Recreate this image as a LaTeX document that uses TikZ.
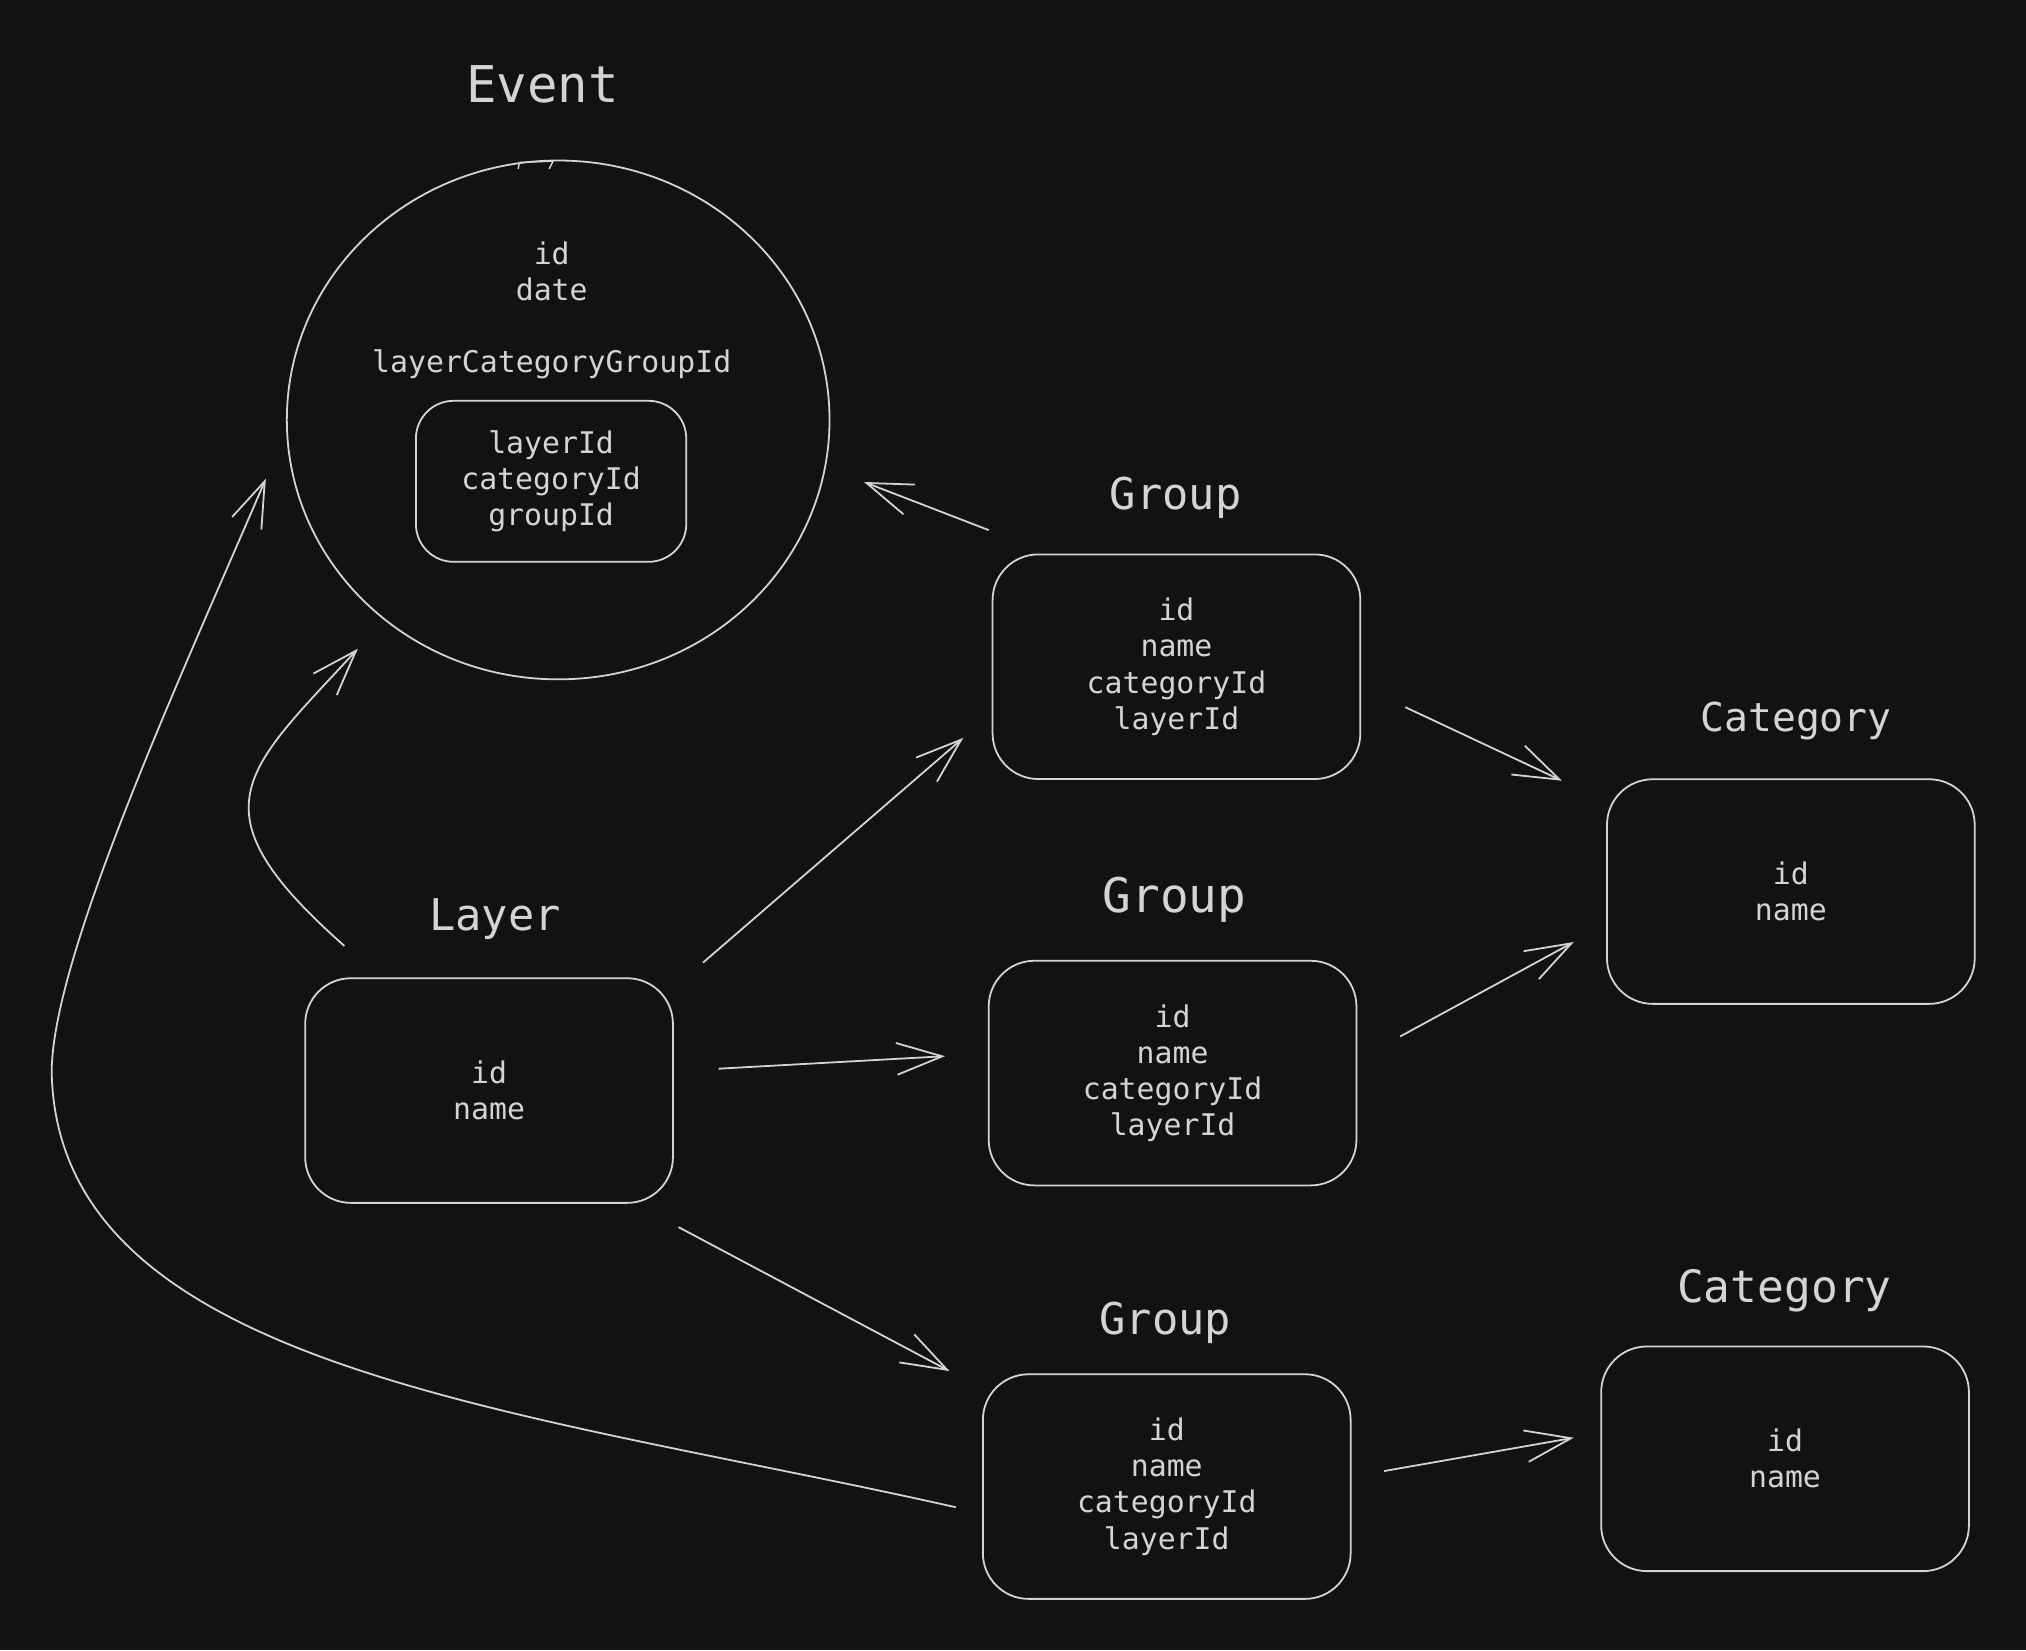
\documentclass[tikz,border=0pt]{standalone}
\usepackage{fontspec}
\setmonofont{DejaVu Sans Mono}
\usepackage{tikz}
\usetikzlibrary{arrows.meta,shapes.geometric}
\definecolor{board}{HTML}{121212}
\definecolor{chalk}{HTML}{D4D4D4}

\begin{document}
\begin{tikzpicture}[
x=0.65pt, y=-0.65pt,
line width=0.9pt,
entity/.style={draw=chalk,rounded corners=23pt,minimum width=185pt,minimum height=113pt,
  inner sep=0pt,outer sep=0pt,align=center,text=chalk,font=\ttfamily\fontsize{15}{18.2}\selectfont},
field/.style={text=chalk,inner sep=0pt,align=center,font=\ttfamily\fontsize{15}{18.2}\selectfont},
heading/.style={text=chalk,inner sep=0pt,anchor=base,font=\ttfamily\fontsize{#1}{#1}\selectfont},
heading/.default=22,
link/.style={-{Straight Barb[length=23pt,width=16pt]},draw=chalk,line width=0.9pt}]
    % Background
    \fill[board] (0,0) rectangle (1568,1277);
    \useasboundingbox (0,0) rectangle (1568,1277);

    % Event
    \node[heading=25.5] (eventTitle) at (420,79) {Event};
    \node[draw=chalk,ellipse,minimum width=273pt,minimum height=261pt,inner sep=0pt,outer sep=0pt] (event) at (432,325) {};
    \node[field] (eventFields) at (427,210) {id\\date};
    \node[field] (eventRef) at (427,282) {layerCategoryGroupId};
    \node[entity,minimum width=136pt,minimum height=81pt,rounded corners=19pt] (eventKey) at (426.5,372.5) {layerId\\categoryId\\groupId};
    \draw[chalk,line width=0.7pt] (event.north) ++(-31,6.5) -- ++(1,-5) -- ++(26,-1) -- ++(-3,6);

    % Groups
    \node[heading] (groupATitle) at (910,394) {Group};
    \node[entity] (groupA) at (910.5,516) {id\\name\\categoryId\\layerId};
    \node[heading=24] (groupBTitle) at (909,706) {Group};
    \node[entity] (groupB) at (907.5,830.5) {id\\name\\categoryId\\layerId};
    \node[heading] (groupCTitle) at (902,1033) {Group};
    \node[entity] (groupC) at (903,1150.5) {id\\name\\categoryId\\layerId};

    % Layer
    \node[heading] (layerTitle) at (383,720) {Layer};
    \node[entity] (layer) at (378.5,844) {id\\name};

    % Categories
    \node[heading=20] (catATitle) at (1390,566) {Category};
    \node[entity] (catA) at (1386,690) {id\\name};
    \node[heading=22.4] (catBTitle) at (1381,1008) {Category};
    \node[entity] (catB) at (1381.5,1129) {id\\name};

    % Links
    \draw[link,shorten <=34pt,shorten >=21pt] (groupA.138) -- (event.-10);
    \draw[link,shorten <=25pt,shorten >=25pt] (groupA.-6.7) -- (catA.154.3);
    \draw[link,shorten <=25pt,shorten >=19pt] (groupB.4.1) -- (catA.190.3);
    \draw[link,shorten <=20pt,shorten >=19.5pt] (layer.29.8) -- (groupA.194.8);
    \draw[link,shorten <=23pt,shorten >=22pt] (layer.6.1) -- (groupB.174.3);
    \draw[link,shorten <=26pt,shorten >=19pt] (layer.-38.6) -- (groupC.152.6);
    \draw[link,shorten <=17pt,shorten >=14pt] (groupC.3.8) -- (catB.172.7);
    \draw[link,shorten >=20pt] (layer.134.2) ++(-28,-25)
        .. controls +(-120,-106) and +(-108.5,118) .. (event.229.8);
    \draw[link,shorten >=27pt] (groupC.188.6) ++(-21,-4)
        .. controls (400,1090) and (45,1060) .. (40,830)
        .. controls (40,740) and (142,519) .. (event.182.7);

\end{tikzpicture}
\end{document}
